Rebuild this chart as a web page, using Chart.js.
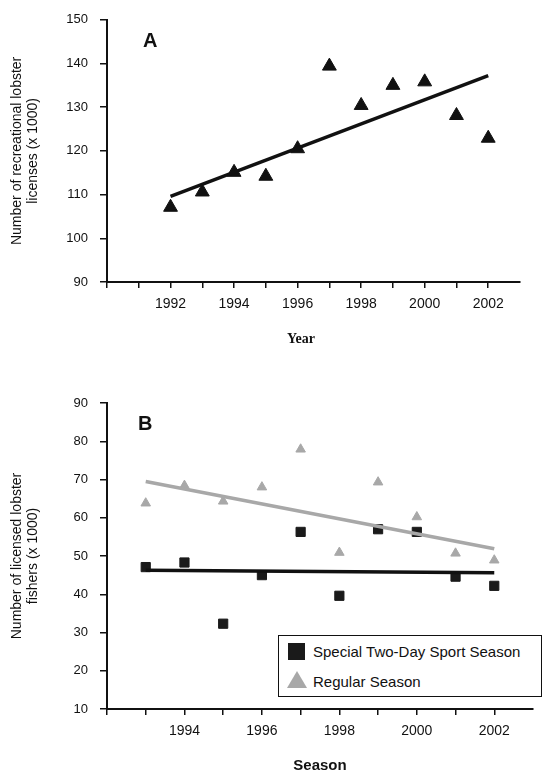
<!DOCTYPE html>
<html>
<head>
<meta charset="utf-8">
<script src="https://cdn.jsdelivr.net/npm/chart.js@4/dist/chart.umd.min.js"></script>
<style>
body{margin:0;background:#fff;width:543px;height:776px;position:relative;overflow:hidden;font-family:"Liberation Sans",Arial,sans-serif;color:#111;}
#wrapA{position:absolute;left:0;top:0;width:543px;height:360px;}
#wrapB{position:absolute;left:0;top:380px;width:543px;height:396px;}
.panel{position:absolute;font-weight:bold;font-size:20px;line-height:20px;color:#111;}
#yearA{position:absolute;left:271px;top:331px;width:60px;text-align:center;font-family:"Liberation Serif","Times New Roman",serif;font-weight:bold;font-size:14px;line-height:16px;color:#111;}
#legendB{position:absolute;left:278px;top:635px;width:264px;height:62px;border:1.5px solid #111;box-sizing:border-box;background:#fff;}
.item{position:absolute;left:0;height:30px;width:100%;}
.item span{position:absolute;left:34px;top:0;line-height:30px;font-size:15px;white-space:nowrap;}
.sq{position:absolute;left:9px;top:6px;width:17px;height:17px;background:#1a1a1a;}
.tri{position:absolute;left:8px;top:4px;width:0;height:0;border-left:10px solid transparent;border-right:10px solid transparent;border-bottom:17px solid #a8a8a8;}
</style>
</head>
<body>
<div id="wrapA"><canvas id="chartA" width="543" height="360"></canvas></div>
<div id="wrapB"><canvas id="chartB" width="543" height="396"></canvas></div>
<div class="panel" style="left:143px;top:30px;">A</div>
<div class="panel" style="left:138px;top:413px;">B</div>
<div id="yearA">Year</div>
<div id="legendB"></div>
<script>
// panel A - recreational licenses
var yearsA = [1992, 1993, 1994, 1995, 1996, 1997, 1998, 1999, 2000, 2001, 2002];
var licensesA = [107.1, 110.6, 115.1, 114.2, 120.5, 139.4, 130.4, 135.0, 135.8, 128.1, 122.9];
var trendYearsA = [1992, 2002];
var trendA = [109.6, 137.2];
var tickLabelsA = [1992, 1994, 1996, 1998, 2000, 2002];

// panel B - licensed fishers by season
var yearsB = [1993, 1994, 1995, 1996, 1997, 1998, 1999, 2000, 2001, 2002];
var specialB = [47.1, 48.3, 32.3, 45.0, 56.3, 39.6, 57.0, 56.3, 44.6, 42.2];
var regularB = [63.8, 68.4, 64.3, 68.0, 77.9, 50.9, 69.3, 60.2, 50.7, 48.9];
var trendYearsB = [1993, 2002];
var trendSpecialB = [46.3, 45.6];
var trendRegularB = [69.5, 51.9];
var tickLabelsB = [1994, 1996, 1998, 2000, 2002];

var INK = '#111';
var GREY = '#a8a8a8';
var SANS = '"Liberation Sans", Arial, sans-serif';

function pts(xs, ys) {
    var out = [];
    for (var i = 0; i < xs.length; i++) out.push({x: xs[i], y: ys[i]});
    return out;
}

function xAxis(min, max, labels, height, title) {
    return {
        type: 'linear', min: min, max: max,
        afterFit: function (s) { s.height = height; },
        border: {display: true, color: INK, width: 2},
        grid: {
            drawOnChartArea: false, drawTicks: true, tickLength: 6, lineWidth: 1.5,
            color: function (c) { return c.tick && c.tick.value === max ? 'rgba(0,0,0,0)' : INK; }
        },
        ticks: {
            stepSize: 1, autoSkip: false, maxRotation: 0, padding: 8, color: INK,
            font: {family: SANS, size: 14},
            callback: function (v) { return labels.indexOf(v) >= 0 ? String(v) : ''; }
        },
        title: title ? {display: true, text: title, color: INK, font: {family: SANS, size: 15, weight: 'bold'}, padding: {top: 0, bottom: 1}} : {display: false}
    };
}

function yAxis(min, max, title) {
    return {
        type: 'linear', min: min, max: max,
        afterFit: function (s) { s.width = 107; },
        border: {display: true, color: INK, width: 2},
        grid: {drawOnChartArea: false, drawTicks: true, tickLength: 7, lineWidth: 1.5, color: INK},
        ticks: {
            stepSize: 10, padding: 12, color: INK, font: {family: SANS, size: 13},
            callback: function (v) { return String(v); }
        },
        title: {display: true, text: title, color: INK, font: {family: SANS, size: 14, lineHeight: 1.15}, padding: {top: 9, bottom: 0}}
    };
}

var common = {
    responsive: false,
    animation: false,
    devicePixelRatio: 1,
    plugins: {legend: {display: false}, tooltip: {enabled: false}}
};

new Chart('chartA', {
    type: 'scatter',
    data: {
        datasets: [{
            type: 'line', label: 'trend', data: pts(trendYearsA, trendA),
            borderColor: INK, borderWidth: 3.5, pointRadius: 0, fill: false
        }, {
            label: 'Licenses', data: pts(yearsA, licensesA),
            pointStyle: 'triangle', pointRadius: 8, backgroundColor: INK, borderColor: INK, borderWidth: 1
        }]
    },
    options: Object.assign({}, common, {
        layout: {padding: {left: 0, right: 23, top: 16, bottom: 0}},
        scales: {
            // "Year" sits left of centre in the original, so it is an html label
            x: xAxis(1990, 2003, tickLabelsA, 78, null),
            y: yAxis(90, 150, ['Number of recreational lobster', 'licenses (x 1000)'])
        }
    })
});

var chartB = new Chart('chartB', {
    type: 'scatter',
    data: {
        datasets: [{
            type: 'line', label: 'trend special', data: pts(trendYearsB, trendSpecialB),
            borderColor: INK, borderWidth: 3.5, pointRadius: 0, fill: false
        }, {
            type: 'line', label: 'trend regular', data: pts(trendYearsB, trendRegularB),
            borderColor: GREY, borderWidth: 3.5, pointRadius: 0, fill: false
        }, {
            label: 'Special Two-Day Sport Season', data: pts(yearsB, specialB),
            pointStyle: 'rect', pointRadius: 6.5, backgroundColor: '#1a1a1a', borderColor: '#1a1a1a', borderWidth: 1
        }, {
            label: 'Regular Season', data: pts(yearsB, regularB),
            pointStyle: 'triangle', pointRadius: 5.5, backgroundColor: GREY, borderColor: GREY, borderWidth: 1
        }]
    },
    options: Object.assign({}, common, {
        layout: {padding: {left: 0, right: 10, top: 23, bottom: 0}},
        scales: {
            x: xAxis(1992, 2003, tickLabelsB, 67, 'Season'),
            y: yAxis(10, 90, ['Number of licensed lobster', 'fishers (x 1000)'])
        }
    })
});

// html legend built from the two marker series
var leg = document.getElementById('legendB');
chartB.data.datasets.slice(2).forEach(function (ds, i) {
    var row = document.createElement('div');
    row.className = 'item';
    row.style.top = (1 + i * 30) + 'px';
    var sym = document.createElement('div');
    sym.className = ds.pointStyle === 'rect' ? 'sq' : 'tri';
    var txt = document.createElement('span');
    txt.textContent = ds.label;
    row.appendChild(sym);
    row.appendChild(txt);
    leg.appendChild(row);
});
</script>
</body>
</html>
